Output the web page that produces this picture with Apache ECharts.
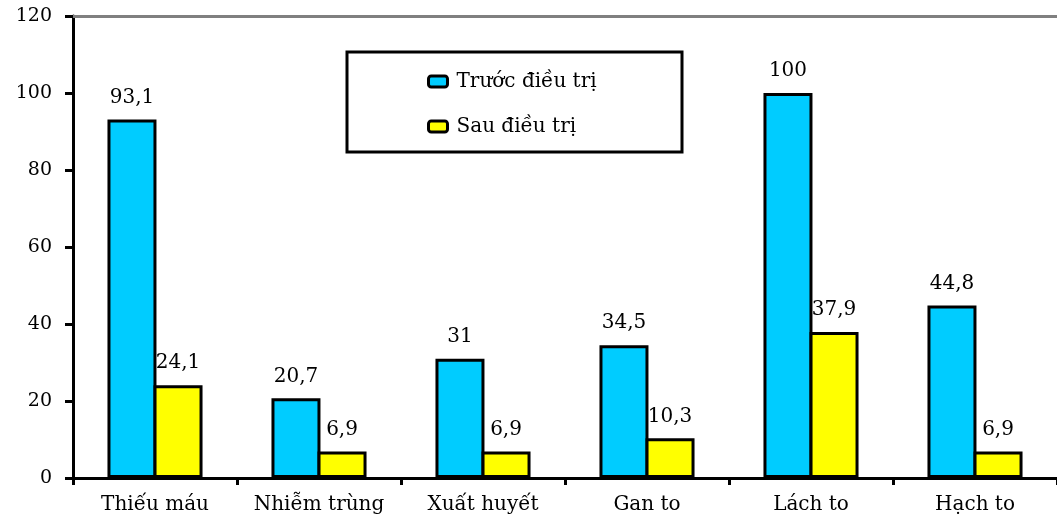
<!DOCTYPE html>
<html>
<head>
<meta charset="utf-8">
<title>Triệu chứng trước và sau điều trị</title>
<script src="https://cdn.jsdelivr.net/npm/echarts@6/dist/echarts.min.js"></script>
<style>
  html, body { margin: 0; padding: 0; background: #ffffff; }
  #chart { width: 1057px; height: 519px; }
</style>
</head>
<body>
<div id="chart"></div>
<script>
// Symptom categories and percentages before / after treatment
const categories = ['Thiếu máu', 'Nhiễm trùng', 'Xuất huyết', 'Gan to', 'Lách to', 'Hạch to'];
const beforeValues = [93.1, 20.7, 31, 34.5, 100, 44.8];
const afterValues = [24.1, 6.9, 6.9, 10.3, 37.9, 6.9];
const seriesNames = ['Trước điều trị', 'Sau điều trị'];
const yTicks = [0, 20, 40, 60, 80, 100, 120];

const FONT = '"DejaVu Serif", "Liberation Serif", serif';

const chart = echarts.init(document.getElementById('chart'));

const labelStyle = {
  show: true,
  position: 'top',
  distance: 12,
  color: '#000',
  fontFamily: FONT,
  fontSize: 20,
  formatter: p => String(p.value).replace('.', ',')
};

chart.setOption({
  backgroundColor: '#ffffff',
  animation: false,
  grid: { left: 73, top: 16, bottom: 41, right: -8 },
  graphic: [{
    type: 'rect',
    z: 1,
    shape: { x: 347, y: 52, width: 335, height: 100 },
    style: { fill: '#ffffff', stroke: '#000000', lineWidth: 3 }
  }],
  legend: {
    z: 5,
    orient: 'vertical',
    left: 422,
    top: 66,
    itemWidth: 19,
    itemHeight: 11,
    itemGap: 24,
    itemStyle: { borderWidth: 3, borderColor: '#000' },
    textStyle: {
      fontFamily: FONT,
      fontSize: 20,
      lineHeight: 21,
      color: '#000',
      padding: [0, 0, 0, 4]
    },
    data: seriesNames
  },
  xAxis: [{
    type: 'category',
    data: categories,
    axisLine: { lineStyle: { color: '#000', width: 3 } },
    axisTick: { show: true, interval: 0, length: 7, lineStyle: { color: '#000', width: 3 } },
    axisLabel: {
      interval: 0,
      color: '#000',
      fontFamily: FONT,
      fontSize: 20,
      margin: 17
    }
  }, {
    type: 'category',
    position: 'top',
    data: categories,
    axisLine: { show: true, lineStyle: { color: '#808080', width: 3 } },
    axisTick: { show: false },
    axisLabel: { show: false }
  }],
  yAxis: {
    type: 'value',
    min: yTicks[0],
    max: yTicks[yTicks.length - 1],
    interval: yTicks[1] - yTicks[0],
    axisLine: { show: true, lineStyle: { color: '#000', width: 3 } },
    axisTick: { show: true, length: 8, lineStyle: { color: '#000', width: 3 } },
    splitLine: { show: false },
    axisLabel: {
      color: '#000',
      fontFamily: FONT,
      fontSize: 19,
      margin: 21
    }
  },
  series: [{
    name: seriesNames[0],
    type: 'bar',
    data: beforeValues,
    barWidth: 49,
    barGap: '-6%',
    itemStyle: { color: '#00CCFF', borderColor: '#000', borderWidth: 3 },
    label: labelStyle
  }, {
    name: seriesNames[1],
    type: 'bar',
    data: afterValues,
    barWidth: 49,
    barGap: '-6%',
    itemStyle: { color: '#FFFF00', borderColor: '#000', borderWidth: 3 },
    label: labelStyle
  }]
});
</script>
</body>
</html>
